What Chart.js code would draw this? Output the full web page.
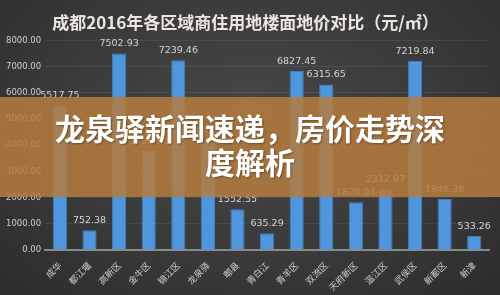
<!DOCTYPE html>
<html>
<head>
  <title>成都2016年各区域商住用地楼面地价对比</title>
  <script src="https://cdn.jsdelivr.net/npm/chart.js"></script>
  <style>
    html, body {
      margin: 0;
      padding: 0;
      width: 500px;
      height: 295px;
      overflow: hidden;
    }
    body {
      background: radial-gradient(ellipse at 50% 40%, #474747 0%, #3a3a3a 55%, #2c2c2c 100%);
      font-family: 'Noto Sans CJK SC', sans-serif;
      position: relative;
    }
    #wrap {
      position: absolute;
      left: 0;
      top: 0;
      width: 500px;
      height: 295px;
    }
    .banner {
      position: absolute;
      left: 0;
      top: 97px;
      width: 500px;
      height: 100px;
      background: rgba(182, 124, 62, 0.86);
    }
    .banner p {
      width: 400px;
      margin: 0 auto;
      padding-top: 13px;
      text-align: center;
      color: #fff;
      font-size: 30px;
      font-weight: bold;
      line-height: 34px;
      text-shadow: 1px 1px 2px rgba(0, 0, 0, 0.35);
    }
  </style>
</head>
<body>

  <div id="wrap"><canvas id="landChart" width="500" height="295"></canvas></div>
  <div class="banner"><p>龙泉驿新闻速递，房价走势深度解析</p></div>

  <script>
    const districts = ['成华', '都江堰', '高新区', '金牛区', '锦江区', '龙泉驿', '郫县', '青白江',
      '青羊区', '双流区', '天府新区', '温江区', '武侯区', '新都区', '新津'];
    const prices = [5517.75, 752.38, 7502.93, 3780, 7239.46, 4150, 1552.55, 635.29,
      6827.45, 6315.65, 1820.04, 2312.97, 7219.84, 1946.38, 533.26];
    const yTicks = [0, 1000, 2000, 3000, 4000, 5000, 6000, 7000, 8000];

    // values drawn above each bar
    const valueLabels = {
      id: 'valueLabels',
      afterDatasetsDraw(chart) {
        const ctx = chart.ctx;
        const meta = chart.getDatasetMeta(0);
        ctx.save();
        ctx.font = '9.5px "DejaVu Sans", sans-serif';
        ctx.fillStyle = '#d4d4d4';
        ctx.textAlign = 'center';
        ctx.textBaseline = 'bottom';
        meta.data.forEach((bar, i) => {
          ctx.fillText(prices[i].toFixed(2), bar.x, bar.y - 5);
        });
        ctx.restore();
      }
    };

    const ctx = document.getElementById('landChart').getContext('2d');
    const landChart = new Chart(ctx, {
      type: 'bar',
      data: {
        labels: districts,
        datasets: [{
          data: prices,
          backgroundColor: '#4f96dc',
          borderColor: '#3f7fc0',
          borderWidth: 1,
          categoryPercentage: 1,
          barPercentage: 0.48
        }]
      },
      options: {
        responsive: false,
        animation: false,
        layout: {
          padding: { left: 2, right: 11, top: 0, bottom: 0 }
        },
        plugins: {
          legend: { display: false },
          tooltip: { enabled: false },
          title: {
            display: true,
            text: '成都2016年各区域商住用地楼面地价对比（元/㎡）',
            color: '#ebe6e0',
            font: { family: '"Noto Sans CJK SC", sans-serif', size: 17, weight: 'bold' },
            padding: { top: 12, bottom: 8 }
          }
        },
        scales: {
          y: {
            min: 0,
            max: 8000,
            afterBuildTicks(axis) {
              axis.ticks = yTicks.map(v => ({ value: v }));
            },
            ticks: {
              color: '#cfcfcf',
              font: { family: '"DejaVu Sans", sans-serif', size: 8.5 },
              padding: 4,
              callback: v => Number(v).toFixed(2)
            },
            grid: {
              color: 'rgba(255,255,255,0.07)',
              drawTicks: false
            },
            border: { display: false }
          },
          x: {
            ticks: {
              color: '#cccccc',
              font: { family: '"Noto Sans CJK SC", sans-serif', size: 9 },
              minRotation: 45,
              maxRotation: 45,
              padding: 2
            },
            grid: { display: false },
            border: { color: '#8a8a8a', width: 2 }
          }
        }
      },
      plugins: [valueLabels]
    });
  </script>

</body>
</html>
